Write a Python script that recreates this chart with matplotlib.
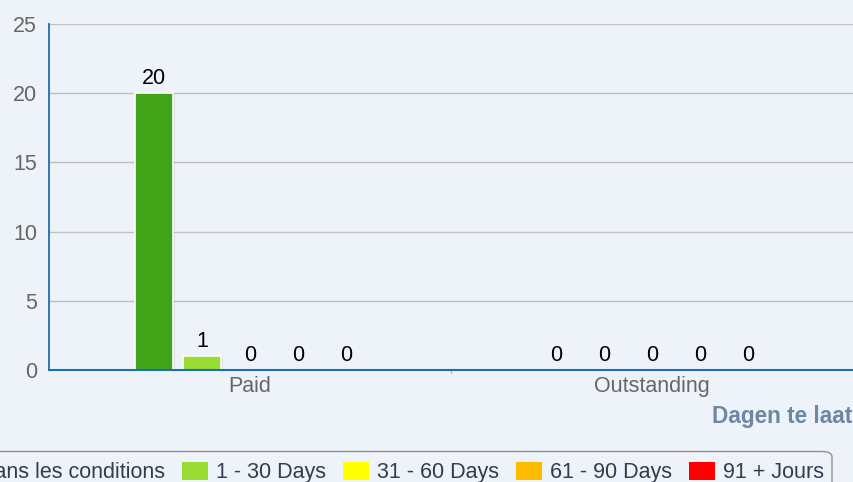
import matplotlib
matplotlib.use("Agg")
import matplotlib.pyplot as plt
import numpy as np
from matplotlib.patches import FancyBboxPatch

plt.rcParams['font.family'] = ['Liberation Sans', 'DejaVu Sans']

categories = ["Paid", "Outstanding"]
series_names = ["Dans les conditions", "1 - 30 Days", "31 - 60 Days", "61 - 90 Days", "91 + Jours"]
series_values = [
    [20, 0],
    [1, 0],
    [0, 0],
    [0, 0],
    [0, 0],
]
series_colors = ["#41a317", "#99dd33", "#ffff00", "#ffbb00", "#ff0000"]
y_ticks = [0, 5, 10, 15, 20, 25]
axis_title = "Dagen te laat"

bg = "#eef3fa"
fs = 15.5
fig = plt.figure(figsize=(8.54, 4.82), dpi=100, facecolor=bg)
W, H = 854, 482
ax = fig.add_axes([49 / W, 1 - 370 / H, (853 - 49) / W, (370 - 24) / H])
ax.set_facecolor(bg)

x = np.arange(len(categories))
step = 48 / 402
width = 38 / 402
n = len(series_names)
for i, (name, vals, col) in enumerate(zip(series_names, series_values, series_colors)):
    off = (i - (n - 1) / 2) * step
    vals = np.array(vals, dtype=float)
    lw = [1.2 if v > 0 else 0 for v in vals]
    ax.bar(x + off + 0.006, vals, width, color="#000000", alpha=0.07, zorder=2, linewidth=0)
    ax.bar(x + off, vals, width, color=col, edgecolor="white", linewidth=lw, label=name, zorder=3)
    for xi, v in zip(x + off, vals):
        ax.text(xi, v + 0.3, f"{int(v)}", ha="center", va="bottom", fontsize=fs, color="black", zorder=4)

ax.set_xlim(-0.5, 1.5)
ax.set_ylim(0, 25)
ax.set_yticks(y_ticks)
ax.set_yticklabels([str(t) for t in y_ticks], fontsize=fs, color="#666666")
ax.set_xticks(x)
ax.set_xticklabels(categories, fontsize=fs, color="#666666")
ax.tick_params(axis="x", length=0, pad=4)
ax.tick_params(axis="y", length=0, pad=8.5)
ax.grid(axis="y", color="#c0c0c0", linewidth=1, zorder=1)
ax.set_axisbelow(True)
for s in ["top", "right"]:
    ax.spines[s].set_visible(False)
for s in ["left", "bottom"]:
    ax.spines[s].set_color("#1a6fb8")
    ax.spines[s].set_zorder(10)
ax.spines["left"].set_linewidth(1.3)
ax.spines["bottom"].set_linewidth(1.5)
ax.plot([0.5, 0.5], [0, -0.25], color="#c0c0c0", lw=1, clip_on=False, zorder=1)

fig.text(852 / W, 1 - 416 / H, axis_title, ha="right", va="center", fontsize=16.3,
         fontweight="bold", color="#6e87a2")

# legend frame (drawn separately so the items can sit lower inside it)
frame = FancyBboxPatch((-60 / W, 1 - 520 / H), (832 - 8 + 60) / W, (520 - 448 - 8) / H,
                       boxstyle=f"round,pad={8 / W},rounding_size={10 / W}",
                       transform=fig.transFigure, facecolor=bg, edgecolor="#909090",
                       linewidth=1, zorder=0)
fig.patches.append(frame)

leg = fig.legend(loc="upper right", bbox_to_anchor=(832 / W, 1 - 454 / H), ncol=5,
                 fontsize=fs, frameon=False, handlelength=1.25, handleheight=0.95,
                 handletextpad=0.37, columnspacing=0.75, borderpad=0.35, borderaxespad=0)
for t in leg.get_texts():
    t.set_color("#333d4f")
for h in leg.legend_handles:
    h.set_edgecolor("none")

fig.savefig("out.png", dpi=100, facecolor=bg)
